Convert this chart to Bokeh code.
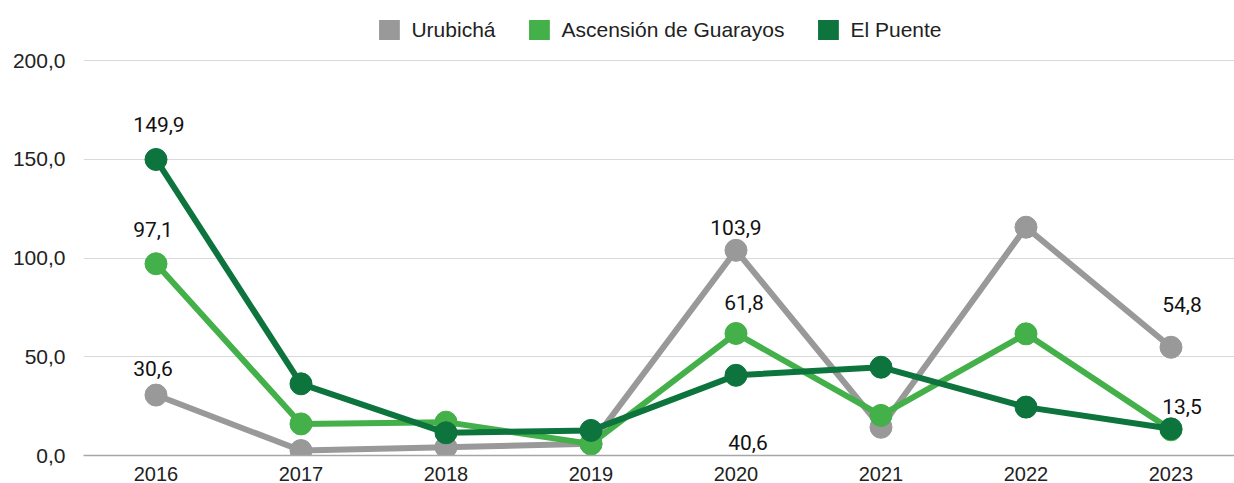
from bokeh.plotting import figure
from bokeh.models import (ColumnDataSource, Range1d, FixedTicker, Legend, LegendItem,
                          LabelSet)
from bokeh.core.properties import value
from bokeh.embed import file_html
from bokeh.resources import INLINE

# ---------------- data ----------------
years = ["2016", "2017", "2018", "2019", "2020", "2021", "2022", "2023"]
urubicha = [30.6, 2.5, 4.2, 5.9, 103.9, 14.3, 115.6, 54.8]
ascension = [97.1, 16.0, 16.9, 5.9, 61.8, 20.3, 61.6, 13.0]
el_puente = [149.9, 36.3, 11.5, 12.7, 40.6, 44.7, 24.5, 13.5]
series_names = ["Urubichá", "Ascensión de Guarayos", "El Puente"]
y_ticks = [0, 50, 100, 150, 200]

# labelled points: (series index, year index)
labelled = [(0, 0), (0, 4), (0, 7), (1, 0), (1, 4), (2, 0), (2, 4), (2, 7)]

# ---------------- style ----------------
colors = ["#999999", "#43b04a", "#0c743c"]
label_offsets = {(0, 0): (-3, -19), (0, 4): (0, -15), (0, 7): (11, -35),
                 (1, 0): (-3, -27), (1, 4): (8, -23),
                 (2, 0): (3, -27), (2, 4): (12, 75), (2, 7): (11, -15)}
FONT = "Liberation Sans"
LABEL_FONT = "Roboto"

series = [urubicha, ascension, el_puente]
idx = list(range(len(years)))


def fmt(v):
    return f"{v:.1f}".replace(".", ",")


# frame spans the full height above the x axis; top part holds the legend
p = figure(width=1234, height=483, output_backend="svg", toolbar_location=None,
           x_range=Range1d(-0.5, 7.438), y_range=Range1d(0, 230.4),
           min_border_left=83, min_border_right=0, min_border_top=0,
           min_border_bottom=0)
p.outline_line_color = None
p.background_fill_color = "white"
p.border_fill_color = "white"

# axes
p.xaxis.ticker = FixedTicker(ticks=idx)
p.xaxis.major_label_overrides = {i: y for i, y in enumerate(years)}
p.xaxis.major_tick_line_color = None
p.xaxis.minor_tick_line_color = None
p.xaxis.major_tick_out = 0
p.xaxis.major_label_standoff = 11
p.xaxis.axis_line_color = "#a6a6a6"
p.xaxis.axis_line_width = 1.5
p.xaxis.major_label_text_font = FONT
p.xaxis.major_label_text_font_size = "20px"
p.xaxis.major_label_text_color = "#222222"

p.yaxis.ticker = FixedTicker(ticks=y_ticks)
p.yaxis.major_label_overrides = {t: fmt(t) for t in y_ticks}
p.yaxis.axis_line_color = None
p.yaxis.major_tick_line_color = None
p.yaxis.minor_tick_line_color = None
p.yaxis.major_tick_out = 0
p.yaxis.major_label_standoff = 18
p.yaxis.major_label_text_font = FONT
p.yaxis.major_label_text_font_size = "21px"
p.yaxis.major_label_text_color = "#222222"

p.xgrid.grid_line_color = None
p.ygrid.ticker = FixedTicker(ticks=y_ticks)
p.ygrid.grid_line_color = "#d9d9d9"
p.ygrid.grid_line_width = 1

legend_items = []
for name, vals, col in zip(series_names, series, colors):
    src = ColumnDataSource(dict(x=idx, y=vals))
    p.line("x", "y", source=src, line_color=col, line_width=6)
    p.scatter("x", "y", source=src, size=22, fill_color=col, line_color=col)
    # zero-area swatch renderer, used only for the square legend key
    dummy = p.quad(left=idx[:1], right=idx[:1], top=vals[:1], bottom=vals[:1],
                   fill_color=col, line_color=None)
    legend_items.append(LegendItem(label=name, renderers=[dummy]))

# data labels
lx, ly, lt, ox, oy = [], [], [], [], []
for (s, i) in labelled:
    v = series[s][i]
    lx.append(idx[i])
    ly.append(v)
    lt.append(fmt(v))
    ox.append(label_offsets[(s, i)][0])
    oy.append(-label_offsets[(s, i)][1])
lsrc = ColumnDataSource(dict(x=lx, y=ly, t=lt, ox=ox, oy=oy))
p.add_layout(LabelSet(x="x", y="y", text="t", source=lsrc, x_offset="ox", y_offset="oy",
                      text_align="center", text_baseline="alphabetic",
                      text_font=value(LABEL_FONT), text_font_size="21px",
                      text_color="#111111"))

legend = Legend(items=legend_items, orientation="horizontal", location="top_center",
                glyph_width=26, glyph_height=25, label_standoff=10, spacing=30,
                padding=0, margin=17, border_line_color=None,
                background_fill_alpha=0,
                label_text_font=FONT, label_text_font_size="21px",
                label_text_color="#222222")
p.add_layout(legend)

open("out.html", "w").write(file_html(p, INLINE))
